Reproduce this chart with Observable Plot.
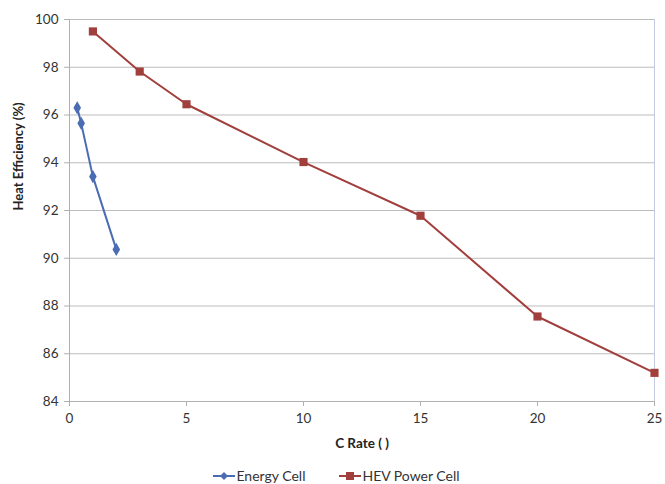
<!DOCTYPE html>
<html>
<head>
<meta charset="utf-8">
<script src="https://cdn.jsdelivr.net/npm/d3@7"></script>
<script src="https://cdn.jsdelivr.net/npm/@observablehq/plot@0.6"></script>
<style>
  body { margin: 0; background: #fff; font-family: Lato, "Open Sans", sans-serif; }
  #chart { width: 665px; height: 484px; position: relative; }
  #legend { position: absolute; top: 467px; left: 0; width: 665px; display: flex; justify-content: center; gap: 8px; font-size: 14px; color: #333; padding-left: 4px; }
  #legend span { display: inline-flex; align-items: center; }
  #legend svg { margin-right: 1px; }
</style>
</head>
<body>
<div id="chart"></div>
<script>
const energyRate = [0.33, 0.5, 1, 2];
const energyEff = [96.3, 95.65, 93.42, 90.37];
const hevRate = [1, 3, 5, 10, 15, 20, 25];
const hevEff = [99.5, 97.82, 96.45, 94.03, 91.78, 87.56, 85.2];
const yTicks = [84, 86, 88, 90, 92, 94, 96, 98, 100];
const xTicks = [0, 5, 10, 15, 20, 25];
const seriesNames = ["Energy Cell", "HEV Power Cell"];
const colors = ["#4a6cb3", "#a13f3d"];

const energy = energyRate.map((x, i) => ({x, y: energyEff[i]}));
const hev = hevRate.map((x, i) => ({x, y: hevEff[i]}));

const plot = Plot.plot({
  width: 665,
  height: 456,
  marginLeft: 69,
  marginRight: 11,
  marginTop: 19,
  marginBottom: 55,
  style: {fontFamily: "Lato, 'Open Sans', sans-serif", fontSize: "13.5px", color: "#333", background: "#fff"},
  x: {domain: [0, 25], ticks: xTicks, label: null},
  y: {domain: [84, 100], ticks: yTicks, label: null},
  marks: [
    Plot.gridY(yTicks, {stroke: "#bdbdbd", strokeOpacity: 1}),
    Plot.ruleX([25], {stroke: "#c4cbe0"}),
    Plot.ruleX([0], {stroke: "#b0b0b0"}),
    Plot.ruleY([84], {stroke: "#b0b0b0"}),
    Plot.axisX(xTicks, {tickSize: 5, tickPadding: 7, stroke: "#b0b0b0", fontSize: 13.5, label: null}),
    Plot.axisY(yTicks, {tickSize: 5, tickPadding: 6, stroke: "#b0b0b0", fontSize: 13.5, label: null}),
    Plot.line(hev, {x: "x", y: "y", stroke: colors[1], strokeWidth: 2}),
    Plot.dot(hev, {x: "x", y: "y", symbol: "square", r: 4.6, fill: colors[1], stroke: "none"}),
    Plot.line(energy, {x: "x", y: "y", stroke: colors[0], strokeWidth: 2}),
    Plot.dot(energy, {x: "x", y: "y", symbol: "diamond", r: 4, fill: colors[0], stroke: "none"}),
    Plot.text(["C Rate ( )"], {frameAnchor: "bottom", dy: 46, text: d => d, fontWeight: "bold", fontSize: 13.5, fill: "#222"}),
    Plot.text(["Heat Efficiency (%)"], {frameAnchor: "left", dx: -51, rotate: -90, text: d => d, fontWeight: "bold", fontSize: 13, fill: "#222"})
  ]
});
document.getElementById("chart").appendChild(plot);

const legend = document.createElement("div");
legend.id = "legend";
const syms = ["diamond", "square"];
seriesNames.forEach((name, i) => {
  const s = document.createElement("span");
  if (i > 0) s.style.marginLeft = "26px";
  const sym = syms[i] === "diamond"
    ? `<path d="M11,2 L15,6 L11,10 L7,6 Z" fill="${colors[i]}"/>`
    : `<rect x="7" y="2" width="8" height="8" fill="${colors[i]}"/>`;
  s.innerHTML = `<svg width="22" height="12"><line x1="0" y1="6" x2="22" y2="6" stroke="${colors[i]}" stroke-width="2"/>${sym}</svg>${name}`;
  legend.appendChild(s);
});
document.getElementById("chart").appendChild(legend);
</script>
</body>
</html>
